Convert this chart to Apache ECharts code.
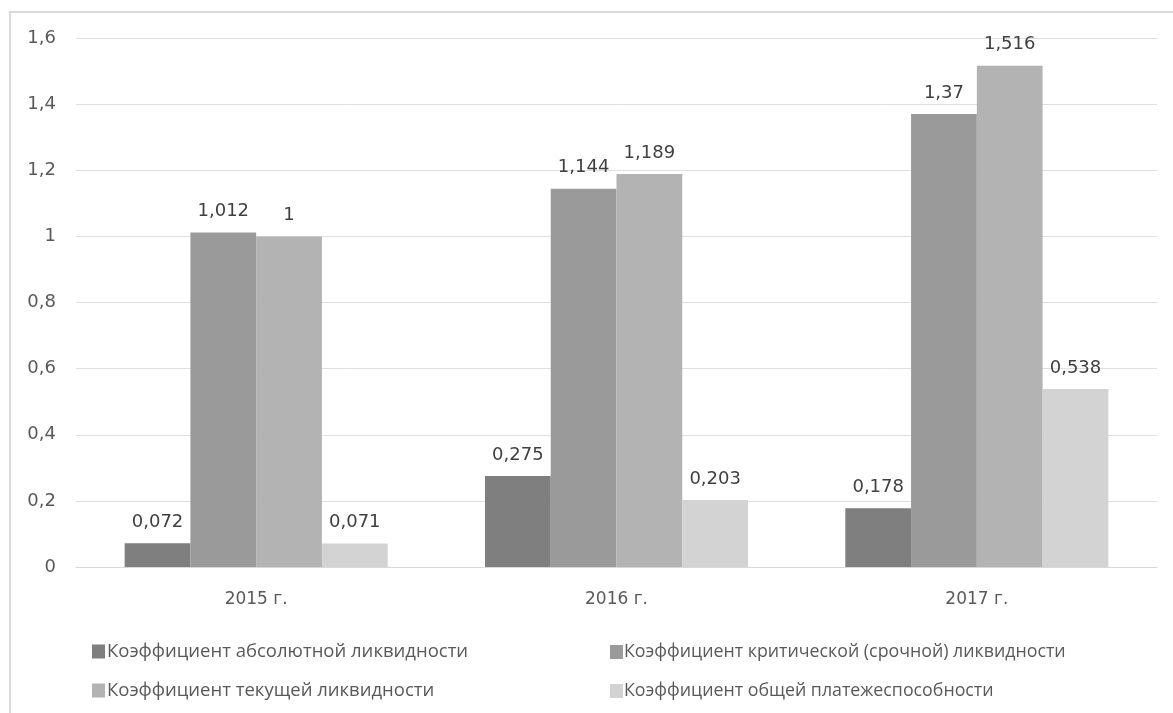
<!DOCTYPE html>
<html>
<head>
<meta charset="utf-8">
<script src="https://cdn.jsdelivr.net/npm/echarts@6/dist/echarts.min.js"></script>
<style>
  html, body { margin: 0; padding: 0; background: #fff; }
  #frame { position: absolute; left: 9px; top: 11px; width: 1180px; height: 720px; border: 2px solid #dadada; box-sizing: border-box; }
  #chart { position: absolute; left: 0; top: 0; width: 1173px; height: 713px; }
</style>
</head>
<body>
<div id="frame"></div>
<div id="chart"></div>
<script>
const categories = ['2015 г.', '2016 г.', '2017 г.'];
const seriesNames = [
  'Коэффициент абсолютной ликвидности',
  'Коэффициент критической (срочной) ликвидности',
  'Коэффициент текущей ликвидности',
  'Коэффициент общей платежеспособности'
];
const absoluteValues = [0.072, 0.275, 0.178];
const criticalValues = [1.012, 1.144, 1.37];
const currentValues = [1, 1.189, 1.516];
const solvencyValues = [0.071, 0.203, 0.538];
const barColors = ['#7f7f7f', '#9a9a9a', '#b3b3b3', '#d3d3d3'];

const numFont = '"DejaVu Sans", sans-serif';
const textFont = '"Open Sans", sans-serif';
const comma = v => String(v).replace('.', ',');

const chart = echarts.init(document.getElementById('chart'), null, { renderer: 'canvas' });

const makeSeries = (name, data, i) => ({
  name: name,
  type: 'bar',
  data: data,
  barGap: '0%',
  barCategoryGap: '27%',
  itemStyle: { color: barColors[i] },
  label: {
    show: true,
    position: 'top',
    distance: 12,
    color: '#404040',
    fontSize: 18,
    fontFamily: numFont,
    formatter: p => comma(p.value)
  }
});

const legendBase = {
  orient: 'vertical',
  itemWidth: 13,
  itemHeight: 14,
  icon: 'rect'
};

chart.setOption({
  animation: false,
  grid: { left: 76, right: 16, top: 38, bottom: 146 },
  xAxis: {
    type: 'category',
    data: categories,
    axisLine: { lineStyle: { color: '#d9d9d9', width: 1 } },
    axisTick: { show: false },
    axisLabel: { color: '#595959', fontSize: 17, fontFamily: numFont, margin: 24 }
  },
  yAxis: {
    type: 'value',
    min: 0,
    max: 1.6,
    interval: 0.2,
    axisLine: { show: false },
    axisTick: { show: false },
    splitLine: { lineStyle: { color: '#e0e0e0', width: 1 } },
    axisLabel: { color: '#595959', fontSize: 18, fontFamily: numFont, margin: 20, formatter: v => comma(+v.toFixed(1)) }
  },
  legend: [
    Object.assign({}, legendBase, {
      left: 87,
      top: 637,
      itemGap: 20,
      data: [seriesNames[0], seriesNames[2]],
      textStyle: { color: '#595959', fontSize: 18.5, fontFamily: textFont, padding: [0, 0, 0, -3] }
    }),
    Object.assign({}, legendBase, {
      left: 605,
      top: 638,
      itemGap: 21,
      data: [seriesNames[1], seriesNames[3]],
      textStyle: { color: '#595959', fontSize: 17.8, fontFamily: textFont, padding: [0, 0, 0, -4] }
    })
  ],
  series: [
    makeSeries(seriesNames[0], absoluteValues, 0),
    makeSeries(seriesNames[1], criticalValues, 1),
    makeSeries(seriesNames[2], currentValues, 2),
    makeSeries(seriesNames[3], solvencyValues, 3)
  ]
});
</script>
</body>
</html>
